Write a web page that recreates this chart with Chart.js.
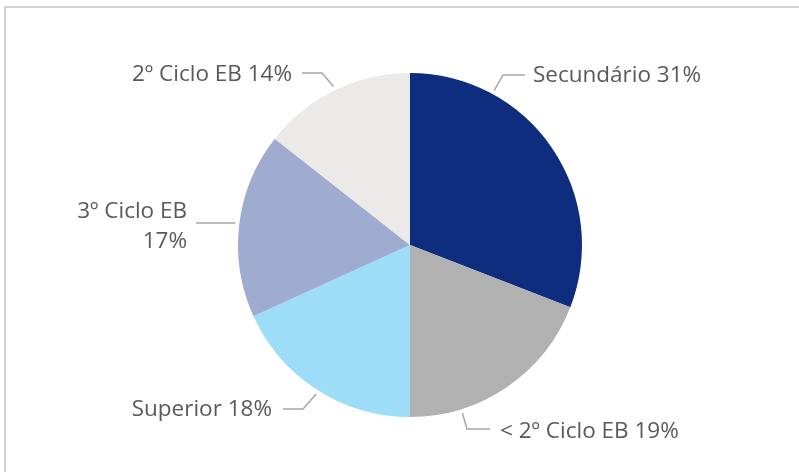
<!DOCTYPE html>
<html>
<head>
<meta charset="utf-8">
<script src="https://cdn.jsdelivr.net/npm/chart.js@4"></script>
<style>
  html, body { margin: 0; padding: 0; background: #fff; overflow: hidden; }
  #wrap { position: relative; width: 799px; height: 472px; }
  #frame { position: absolute; left: 4px; top: 6px; width: 900px; height: 600px;
           border: 2px solid #D6D1CC; box-sizing: border-box; }
  canvas { position: absolute; left: 0; top: 0; }
</style>
</head>
<body>
<div id="wrap">
  <div id="frame"></div>
  <canvas id="pie" width="799" height="472"></canvas>
</div>
<script>
const categories = ['Secundário', '< 2º Ciclo EB', 'Superior', '3º Ciclo EB', '2º Ciclo EB'];
const shares = [30.9, 19.1, 18.2, 17.4, 14.4];
const colors = ['#0E2D7E', '#B1B1B1', '#9DDDF8', '#A0ACCF', '#ECEAE8'];

// leader line + label placement, relative to the pie centre
// ang = where the leader touches the pie (deg clockwise from top)
const labelLayout = [
  { ang: 28.6,  elbow: [93, -170],  end: [115, -170], text: [123, -169], align: 'left' },
  { ang: 162.7, elbow: [57, 184],   end: [80, 184],   text: [90, 187],   align: 'left' },
  { ang: 212.2, elbow: [-107, 164], end: [-127, 164], text: [-138, 165], align: 'right' },
  { ang: 277.2, elbow: [-214, -22], end: [-214, -22], text: [-223, -33], align: 'right', wrap: true },
  { ang: 334.2, elbow: [-88, -172], end: [-108, -172], text: [-118, -170], align: 'right' }
];

const leaderLabels = {
  id: 'leaderLabels',
  afterDraw(chart) {
    const ctx = chart.ctx;
    const arcs = chart.getDatasetMeta(0).data;
    ctx.save();
    ctx.font = '22.5px "Open Sans", sans-serif';
    ctx.textBaseline = 'middle';
    arcs.forEach((arc, i) => {
      const p = arc.getProps(['x', 'y', 'outerRadius'], true);
      const L = labelLayout[i];
      const a = L.ang * Math.PI / 180;
      const r = p.outerRadius + 4;
      const sx = p.x + r * Math.sin(a), sy = p.y - r * Math.cos(a);
      ctx.strokeStyle = '#A6A6A6';
      ctx.lineWidth = 1.5;
      ctx.beginPath();
      ctx.moveTo(sx, sy);
      ctx.lineTo(p.x + L.elbow[0], p.y + L.elbow[1]);
      ctx.lineTo(p.x + L.end[0], p.y + L.end[1]);
      ctx.stroke();
      ctx.fillStyle = '#595959';
      ctx.textAlign = L.align;
      const pct = Math.round(shares[i]) + '%';
      const tx = p.x + L.text[0], ty = p.y + L.text[1];
      if (L.wrap) {
        ctx.fillText(categories[i], tx, ty);
        ctx.fillText(pct, tx, ty + 30);
      } else {
        ctx.fillText(categories[i] + ' ' + pct, tx, ty);
      }
    });
    ctx.restore();
  }
};

new Chart(document.getElementById('pie'), {
  type: 'pie',
  data: {
    labels: categories,
    datasets: [{
      data: shares,
      backgroundColor: colors,
      borderWidth: 0
    }]
  },
  options: {
    responsive: false,
    animation: false,
    layout: { padding: { left: 238, right: 217, top: 73, bottom: 55 } },
    plugins: {
      legend: { display: false },
      tooltip: { enabled: false }
    }
  },
  plugins: [leaderLabels]
});
</script>
</body>
</html>
